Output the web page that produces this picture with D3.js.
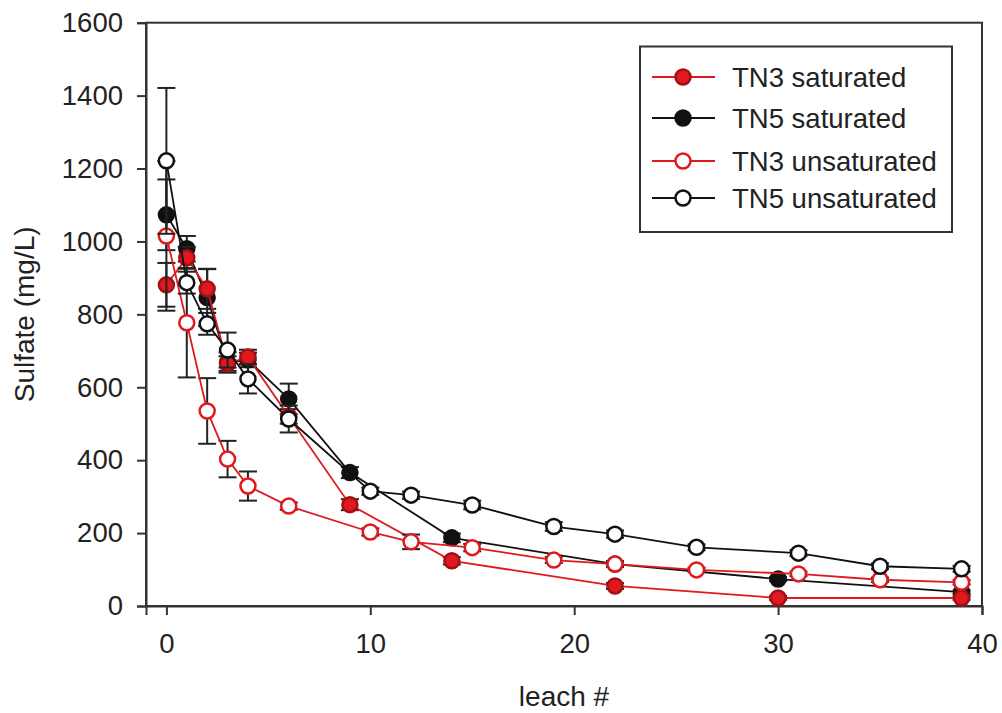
<!DOCTYPE html>
<html><head><meta charset="utf-8">
<script src="https://cdn.jsdelivr.net/npm/d3@7/dist/d3.min.js"></script>
<style>body{margin:0;background:#fff;} text{font-family:"Liberation Sans",Arial,sans-serif;fill:#222;}</style>
</head><body>
<svg id="c" width="1002" height="713"></svg>
<script>
// Data
const xSat = [0,1,2,3,4,6,9,14,22,30,39];
const tn3Sat = [881,955,870,665,683,520,278,124,55,22,22];
const tn3SatErr = [60,30,55,20,20,20,15,10,8,5,5];
const tn5Sat = [1073,980,846,668,675,568,366,187,115,74,38];
const tn5SatErr = [97,35,78,28,20,42,15,12,8,5,5];
const xUns = [0,1,2,3,4,6,10,12,15,19,22,26,31,35,39];
const tn3Uns = [1015,777,535,403,329,274,203,176,160,126,115,99,88,72,65];
const tn3UnsErr = [205,150,90,50,40,10,10,20,10,8,8,6,6,6,6];
const tn5Uns = [1221,887,774,702,623,513,315,304,277,218,197,161,145,109,102];
const tn5UnsErr = [200,30,30,48,40,37,10,10,12,12,10,8,8,8,8];
const xTicks = [0,10,20,30,40];
const yTicks = [0,200,400,600,800,1000,1200,1400,1600];
const seriesNames = ["TN3 saturated","TN5 saturated","TN3 unsaturated","TN5 unsaturated"];

const RED = "#e0191f";
const svg = d3.select("#c");
const L = 146, R = 982, T = 22.7, B = 606;
const x = d3.scaleLinear().domain([-1,40]).range([L,R]);
const y = d3.scaleLinear().domain([0,1600]).range([B,T]);

// frame
svg.append("rect").attr("x",L).attr("y",T).attr("width",R-L).attr("height",B-T)
  .attr("fill","none").attr("stroke","#333").attr("stroke-width",2);

// axes
const ax = svg.append("g").attr("transform",`translate(0,${B})`)
  .call(d3.axisBottom(x).tickValues(xTicks).tickSize(9).tickPadding(18).tickFormat(d3.format("d")));
const ay = svg.append("g").attr("transform",`translate(${L},0)`)
  .call(d3.axisLeft(y).tickValues(yTicks).tickSize(9).tickPadding(14).tickFormat(d3.format("d")));
[ax,ay].forEach(g=>{
  g.select(".domain").attr("stroke","#333").attr("stroke-width",2);
  g.selectAll(".tick line").attr("stroke","#333").attr("stroke-width",2);
  g.selectAll(".tick text").attr("font-size",27.5).attr("fill","#222").style("font-family","Liberation Sans, Arial, sans-serif");
});
ax.selectAll(".tick text").attr("dy","0.71em");

svg.append("text").attr("x",(L+R)/2).attr("y",706).attr("text-anchor","middle").attr("font-size",28).text("leach #");
svg.append("text").attr("transform",`translate(34,${(T+B)/2}) rotate(-90)`).attr("text-anchor","middle").attr("font-size",28).text("Sulfate (mg/L)");

const series = [
  {xs:xSat, ys:tn5Sat, err:tn5SatErr, color:"#111", fill:"#111", stroke:"#111"},
  {xs:xSat, ys:tn3Sat, err:tn3SatErr, color:RED, fill:RED, stroke:"#a01015"},
  {xs:xUns, ys:tn3Uns, err:tn3UnsErr, color:RED, fill:"#fff", stroke:RED},
  {xs:xUns, ys:tn5Uns, err:tn5UnsErr, color:"#111", fill:"#fff", stroke:"#111"}
];
const line = d3.line().x(d=>x(d[0])).y(d=>y(d[1]));
series.forEach(s=>{
  const pts = s.xs.map((v,i)=>[v,s.ys[i],s.err[i]]);
  const g = svg.append("g");
  // error bars
  pts.forEach(p=>{
    const cx = x(p[0]), y1 = y(p[1]+p[2]), y2 = y(p[1]-p[2]);
    g.append("line").attr("x1",cx).attr("x2",cx).attr("y1",y1).attr("y2",y2).attr("stroke","#222").attr("stroke-width",2);
    [y1,y2].forEach(yy=>g.append("line").attr("x1",cx-9).attr("x2",cx+9).attr("y1",yy).attr("y2",yy).attr("stroke","#222").attr("stroke-width",2));
  });
  g.append("path").datum(pts).attr("d",line).attr("fill","none").attr("stroke",s.color).attr("stroke-width",1.8);
  g.selectAll("circle").data(pts).join("circle").attr("cx",d=>x(d[0])).attr("cy",d=>y(d[1])).attr("r",7.5)
    .attr("fill",s.fill).attr("stroke",s.stroke).attr("stroke-width",2.5);
});

// legend
svg.append("rect").attr("x",640).attr("y",46.5).attr("width",312).attr("height",185.5).attr("fill","#fff").attr("stroke","#333").attr("stroke-width",2);
const legRows = [
  {name:seriesNames[0], yy:77, color:RED, fill:RED, stroke:"#a01015"},
  {name:seriesNames[1], yy:118, color:"#111", fill:"#111", stroke:"#111"},
  {name:seriesNames[2], yy:161, color:RED, fill:"#fff", stroke:RED},
  {name:seriesNames[3], yy:198, color:"#111", fill:"#fff", stroke:"#111"}
];
legRows.forEach(r=>{
  svg.append("line").attr("x1",652).attr("x2",715).attr("y1",r.yy).attr("y2",r.yy).attr("stroke",r.color).attr("stroke-width",2);
  svg.append("circle").attr("cx",683).attr("cy",r.yy).attr("r",7.5).attr("fill",r.fill).attr("stroke",r.stroke).attr("stroke-width",2.5);
  svg.append("text").attr("x",732).attr("y",r.yy).attr("dy","0.36em").attr("font-size",27.5).text(r.name);
});
</script>
</body></html>
